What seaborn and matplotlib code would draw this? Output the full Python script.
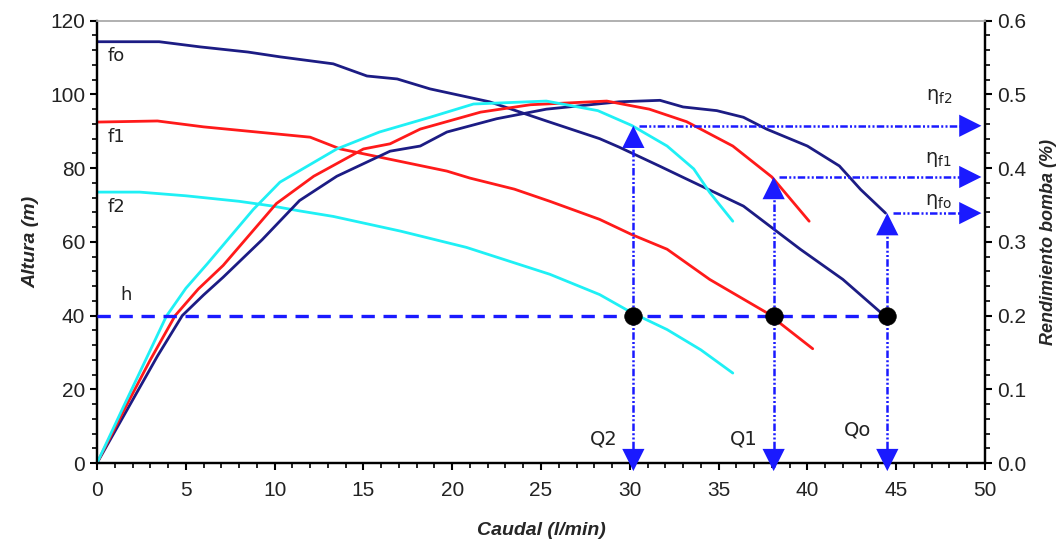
import matplotlib
matplotlib.use("Agg")
import matplotlib.pyplot as plt
from matplotlib.ticker import MultipleLocator, FormatStrFormatter
import seaborn as sns

# head curves H(Q), left axis (m)
q_h_f0 = [0, 3.5, 5.8, 8.5, 10.3, 13.3, 15.2, 16.9, 18.75, 22.1, 25.3, 28.3, 29.4, 31.7, 33, 36.4, 39.6, 42, 44.4]
h_f0 = [114.3, 114.3, 112.9, 111.5, 110.2, 108.3, 105, 104.2, 101.5, 98, 92.8, 88, 85.7, 80.5, 77.5, 69.7, 58, 49.8, 39.7]
q_h_f1 = [0, 3.4, 6, 9, 12, 13.7, 16.5, 19.7, 21, 23.5, 25.5, 28.3, 30.1, 32.1, 34.5, 37.7, 40.3]
h_f1 = [92.5, 92.8, 91.2, 89.8, 88.4, 85.2, 82.4, 79.2, 77.3, 74.3, 71, 66.1, 62, 58, 49.8, 40.8, 31]
q_h_f2 = [0, 2.4, 5, 8, 9.9, 11.4, 13.3, 17.1, 20.8, 25.5, 28.3, 30.1, 32.1, 34, 35.8]
h_f2 = [73.5, 73.5, 72.5, 71, 69.7, 68.4, 66.9, 62.9, 58.5, 51.2, 45.7, 40.8, 36.2, 30.7, 24.4]

# efficiency curves, right axis
q_e_f0 = [0, 1.5, 3.4, 4.8, 6, 7.1, 9.3, 11.4, 13.5, 16.5, 18.2, 19.7, 22.5, 25.3, 29.4, 31.7, 33, 34.9, 36.4, 37.7, 40, 41.8, 43, 44.4]
e_f0 = [0, 0.064, 0.145, 0.2, 0.228, 0.252, 0.303, 0.356, 0.389, 0.423, 0.43, 0.449, 0.467, 0.48, 0.49, 0.492, 0.483, 0.478, 0.469, 0.453, 0.43, 0.403, 0.371, 0.339]
q_e_f1 = [0, 1.5, 3.0, 4.4, 5.7, 7.1, 8.6, 10.1, 12.2, 15, 16.5, 18.2, 21.6, 24.4, 28.7, 31.1, 33.2, 35.8, 38, 40.1]
e_f1 = [0, 0.071, 0.14, 0.2, 0.236, 0.268, 0.31, 0.352, 0.389, 0.426, 0.433, 0.453, 0.476, 0.486, 0.491, 0.48, 0.463, 0.43, 0.388, 0.328]
q_e_f2 = [0, 1.5, 2.8, 3.9, 5, 6.2, 7.5, 8.8, 10.3, 13.5, 15.9, 18.75, 21.2, 25.3, 28.2, 30.1, 32.1, 33.6, 34.5, 35.8]
e_f2 = [0, 0.077, 0.143, 0.199, 0.237, 0.27, 0.307, 0.344, 0.381, 0.426, 0.449, 0.469, 0.487, 0.491, 0.478, 0.458, 0.43, 0.399, 0.367, 0.328]

h_req = 40
q_op = [30.2, 38.1, 44.5]
eta_op = [0.4575, 0.388, 0.339]
q_names = ["Q2", "Q1", "Qo"]
eta_names = ["f2", "f1", "fo"]
curve_names = ["fo", "f1", "f2"]

navy = "#1c1c84"
red = "#ff1a1a"
cyan = "#1ff0f5"
blue = "#1a1aff"

sns.set_style("ticks")
plt.rcParams["font.family"] = ["Liberation Sans", "DejaVu Sans"]

fig, ax = plt.subplots(figsize=(10.63, 5.48), dpi=100)
fig.subplots_adjust(left=0.0913, right=0.9266, bottom=0.1551, top=0.9622)
ax2 = ax.twinx()
ax.set_xlim(0, 50)
ax.set_ylim(0, 120)
ax2.set_ylim(0, 0.6)
m_to_eta = 0.6 / 120  # right axis units per metre

for q, h, c in [(q_h_f0, h_f0, navy), (q_h_f1, h_f1, red), (q_h_f2, h_f2, cyan)]:
    sns.lineplot(x=q, y=h, ax=ax, color=c, lw=2, sort=False, estimator=None)
for q, e, c in [(q_e_f0, e_f0, navy), (q_e_f1, e_f1, red), (q_e_f2, e_f2, cyan)]:
    sns.lineplot(x=q, y=e, ax=ax2, color=c, lw=2, sort=False, estimator=None)

# required head
ax2.plot([0, max(q_op)], [h_req * m_to_eta] * 2, color=blue, lw=2.4, dashes=(4, 2.6), zorder=4)

# operating point arrows
ddot = (3.0, 0.9, 0.8, 0.9, 0.8, 0.9)
head = dict(arrowstyle="-|>,head_length=1.0,head_width=0.5", color=blue, lw=0,
            shrinkA=0, shrinkB=0, mutation_scale=16)
for q, e in zip(q_op, eta_op):
    ax2.plot([q, q], [-0.005, e - 0.01], color=blue, lw=1.8, dashes=ddot, zorder=4, clip_on=False)
    ax2.plot([q + 0.3, 49.0], [e, e], color=blue, lw=1.8, dashes=ddot, zorder=4)
    ax2.annotate("", xy=(q, e), xytext=(q, e - 0.03), arrowprops=head, annotation_clip=False)
    ax2.annotate("", xy=(q, -0.011), xytext=(q, 0.02), arrowprops=head, annotation_clip=False)
    ax2.annotate("", xy=(49.8, e), xytext=(48.0, e), arrowprops=head, annotation_clip=False)

sns.scatterplot(x=q_op, y=[h_req * m_to_eta] * len(q_op), ax=ax2, color="black", s=160,
                zorder=6, edgecolor="black", linewidth=0.5)

# labels in the plot
lab_font = dict(family="DejaVu Sans", fontsize=13, color="#222222")
for name, h in zip(curve_names, [h_f0[0], h_f1[0], h_f2[0]]):
    ax.text(0.6, h - 4, name, va="center", ha="left", **lab_font)
ax.text(1.3, h_req + 5.5, "h", va="center", ha="left", **lab_font)
for name, q, dy in zip(q_names, q_op, [6.5, 6.5, 9]):
    ax.text(q - 0.9, dy, name, va="center", ha="right", family="DejaVu Sans", fontsize=14,
            color="#222222")
for name, e, off in zip(eta_names, eta_op, [0.04, 0.024, 0.016]):
    ax2.text(47.4, e + off, r"$\mathregular{\eta_{" + name + "}}$", va="center", ha="center",
             family="DejaVu Sans", fontsize=14, color="#222222")

# axes
ax.xaxis.set_major_locator(MultipleLocator(5))
ax.xaxis.set_minor_locator(MultipleLocator(1))
ax.yaxis.set_major_locator(MultipleLocator(20))
ax.yaxis.set_minor_locator(MultipleLocator(4))
ax2.yaxis.set_major_locator(MultipleLocator(0.1))
ax2.yaxis.set_minor_locator(MultipleLocator(0.02))
ax2.yaxis.set_major_formatter(FormatStrFormatter("%.1f"))

for a in (ax, ax2):
    a.tick_params(which="major", length=5, width=1.5, color="black", labelsize=15,
                  labelcolor="#222222")
    a.tick_params(which="minor", length=3.5, width=1.2, color="black")
    for s in a.spines.values():
        s.set_linewidth(1.6)
        s.set_color("black")
    a.spines["top"].set_color("#b0b0b0")
    a.spines["top"].set_linewidth(1.2)
ax.tick_params(axis="x", which="both", pad=8)

ax.set_xlabel("Caudal (l/min)", fontsize=14, fontweight="bold", fontstyle="italic", labelpad=16)
ax.set_ylabel("Altura (m)", fontsize=14, fontweight="bold", fontstyle="italic", labelpad=8)
ax2.set_ylabel("Rendimiento bomba (%)", fontsize=13, fontweight="bold", fontstyle="italic",
               labelpad=10)

fig.savefig("out.png", dpi=100)
